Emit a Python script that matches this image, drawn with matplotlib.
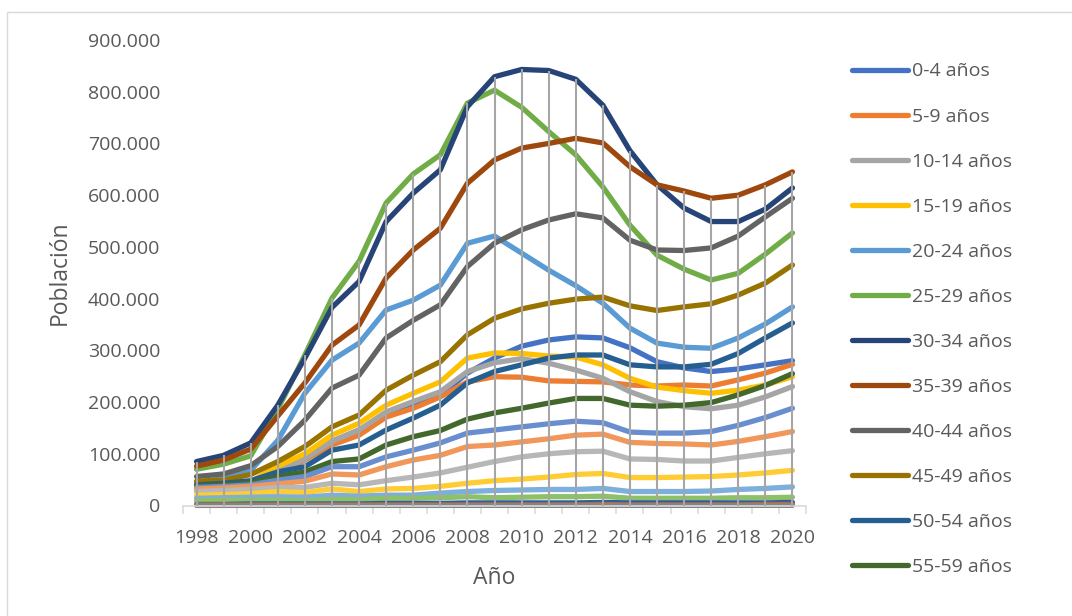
import numpy as np
import matplotlib
matplotlib.use("Agg")
import matplotlib.pyplot as plt
from matplotlib.patches import Rectangle
from matplotlib.ticker import FuncFormatter

plt.rcParams["font.family"] = ["Open Sans", "DejaVu Sans"]

anios = list(range(1998, 2021))

# Población por grupo de edad (miles de personas)
edad_0_4 = [30, 33, 42, 62, 92, 124, 146, 175, 191, 213, 256, 285, 308, 320, 326, 324, 305, 278, 266, 259, 264, 272, 280]
edad_5_9 = [29, 32, 40, 60, 88, 117, 136, 171, 188, 210, 239, 249, 248, 241, 240, 239, 233, 231, 233, 231, 243, 256, 273]
edad_10_14 = [31, 34, 43, 66, 90, 124, 146, 181, 201, 220, 259, 276, 284, 275, 262, 246, 220, 201, 191, 187, 194, 210, 230]
edad_15_19 = [30, 35, 46, 76, 100, 136, 159, 194, 217, 239, 285, 295, 294, 289, 287, 272, 246, 229, 222, 217, 223, 233, 249]
edad_20_24 = [45, 52, 68, 126, 217, 281, 314, 378, 397, 426, 507, 521, 488, 455, 425, 391, 343, 314, 306, 304, 324, 351, 384]
edad_25_29 = [70, 80, 96, 186, 291, 401, 472, 585, 641, 678, 778, 803, 770, 723, 678, 616, 542, 484, 457, 436, 449, 486, 527]
edad_30_34 = [85, 97, 121, 194, 285, 383, 433, 549, 604, 649, 771, 829, 843, 841, 824, 774, 686, 620, 575, 549, 549, 573, 614]
edad_35_39 = [76, 88, 109, 173, 237, 310, 349, 440, 494, 536, 623, 668, 691, 700, 710, 701, 655, 620, 608, 594, 600, 620, 645]
edad_40_44 = [56, 61, 77, 114, 165, 227, 252, 324, 358, 388, 462, 507, 533, 552, 564, 556, 513, 494, 493, 498, 521, 558, 594]
edad_45_49 = [47, 49, 60, 85, 114, 152, 175, 223, 252, 278, 330, 362, 380, 391, 399, 403, 386, 377, 384, 390, 407, 430, 465]
edad_50_54 = [40, 43, 48, 65, 75, 107, 117, 146, 169, 194, 237, 259, 272, 285, 291, 291, 272, 268, 268, 273, 294, 324, 353]
edad_55_59 = [38, 40, 44, 56, 65, 85, 90, 117, 133, 145, 167, 179, 188, 198, 207, 207, 194, 192, 194, 199, 214, 232, 255]
edad_60_64 = [35, 37, 40, 49, 56, 75, 75, 94, 107, 121, 140, 146, 152, 158, 163, 160, 142, 140, 140, 143, 155, 170, 188]
edad_65_69 = [32, 34, 37, 42, 47, 61, 59, 75, 88, 97, 114, 117, 123, 129, 136, 138, 122, 120, 119, 117, 124, 133, 143]
edad_70_74 = [27, 29, 31, 35, 35, 43, 40, 48, 55, 63, 74, 85, 94, 100, 104, 105, 90, 89, 86, 86, 93, 100, 106]
edad_75_79 = [20, 21, 23, 27, 25, 32, 27, 32, 33, 37, 43, 48, 51, 55, 60, 62, 54, 54, 55, 56, 59, 63, 68]
edad_80_84 = [14, 15, 16, 17, 16, 20, 18, 20, 20, 24, 27, 29, 30, 31, 31, 33, 27, 27, 27, 28, 31, 33, 36]
edad_85_89 = [9, 10, 10, 11, 9, 12, 11, 14, 14, 15, 17, 15, 16, 17, 17, 18, 14, 14, 14, 14, 15, 15, 16]
edad_90_94 = [2, 2, 3, 3, 3, 3, 3, 4, 4, 4, 5, 5, 5, 5, 5, 6, 5, 5, 5, 5, 5, 5, 6]
edad_95_99 = [1, 1, 1, 1, 1, 1, 1, 1, 1, 1, 1, 1, 1, 1, 1, 2, 1, 1, 1, 1, 1, 2, 2]
edad_100 = [0.2, 0.2, 0.2, 0.2, 0.2, 0.2, 0.2, 0.2, 0.2, 0.2, 0.3, 0.3, 0.3, 0.3, 0.3, 0.3, 0.3, 0.3, 0.3, 0.3, 0.3, 0.3, 0.3]

grupos = ["0-4 años", "5-9 años", "10-14 años", "15-19 años", "20-24 años",
          "25-29 años", "30-34 años", "35-39 años", "40-44 años", "45-49 años",
          "50-54 años", "55-59 años", "60-64 años", "65-69 años", "70-74 años",
          "75-79 años", "80-84 años", "85-89 años", "90-94 años", "95-99 años",
          "100 y más años"]
series = [edad_0_4, edad_5_9, edad_10_14, edad_15_19, edad_20_24, edad_25_29,
          edad_30_34, edad_35_39, edad_40_44, edad_45_49, edad_50_54, edad_55_59,
          edad_60_64, edad_65_69, edad_70_74, edad_75_79, edad_80_84, edad_85_89,
          edad_90_94, edad_95_99, edad_100]
colores = ["#4472C4", "#ED7D31", "#A5A5A5", "#FFC000", "#5B9BD5", "#70AD47",
           "#264478", "#9E480E", "#636363", "#997300", "#255E91", "#43682B",
           "#698ED0", "#F1975A", "#B7B7B7", "#FFCD33", "#7CAFDD", "#8CC168",
           "#335AA1", "#D26012", "#848484"]

texto = "#595959"
W, H = 1072, 616
fig = plt.figure(figsize=(W / 100, H / 100), dpi=100)
ax = fig.add_axes([183 / W, 1 - 505.5 / H, (806 - 183) / W, (505.5 - 40) / H])

lineas = []
for i, (nombre, vals, c) in enumerate(zip(grupos, series, colores)):
    (ln,) = ax.plot(anios, np.array(vals) * 1000, color=c, lw=3.8,
                    solid_capstyle="round", solid_joinstyle="round",
                    clip_on=False, zorder=2 + i * 0.01, label=nombre)
    lineas.append(ln)

# líneas de proyección desde el valor máximo de cada año hasta el eje
maximo = np.max(np.array(series, dtype=float), axis=0) * 1000
ax.vlines(anios, 0, maximo, colors="#A6A6A6", lw=1.5, zorder=5)

ax.set_xlim(1997.5, 2020.5)
ax.set_ylim(0, 900000)
ax.set_yticks(np.arange(0, 900001, 100000))
ax.yaxis.set_major_formatter(FuncFormatter(lambda v, p: f"{int(v):,}".replace(",", ".")))
ax.set_xticks(anios[::2])
ax.set_xticks(np.arange(1997.5, 2021, 1.0), minor=True)

for s in ["top", "right", "left"]:
    ax.spines[s].set_visible(False)
ax.spines["bottom"].set_color("#D9D9D9")
ax.spines["bottom"].set_linewidth(1.2)

ax.tick_params(axis="y", length=0, pad=16.5, labelsize=14, labelcolor=texto)
ax.tick_params(axis="x", which="major", length=0, pad=17, labelsize=14, labelcolor=texto)
ax.tick_params(axis="x", which="minor", length=6, width=1.1, color="#D9D9D9")

ax.set_ylabel("Población", fontsize=16.5, color=texto)
ax.yaxis.set_label_coords(-0.178, 0.5)
ax.set_xlabel("Año", fontsize=16.5, color=texto)
ax.xaxis.set_label_coords(0.5, -0.13)

fig.legend(lineas[:12], grupos[:12], loc="upper left",
           bbox_to_anchor=(852 / W, 1 - 62.5 / H), frameon=False,
           fontsize=14, handlelength=2.9, handletextpad=0.2,
           labelspacing=1.39, borderpad=0, borderaxespad=0, labelcolor=texto)

# marco del área del gráfico
fig.add_artist(Rectangle((7 / W, -0.5), 2, 1.5 - 12 / H, transform=fig.transFigure,
                         fill=False, edgecolor="#D9D9D9", lw=1.0))

fig.savefig("out.png", dpi=100)
